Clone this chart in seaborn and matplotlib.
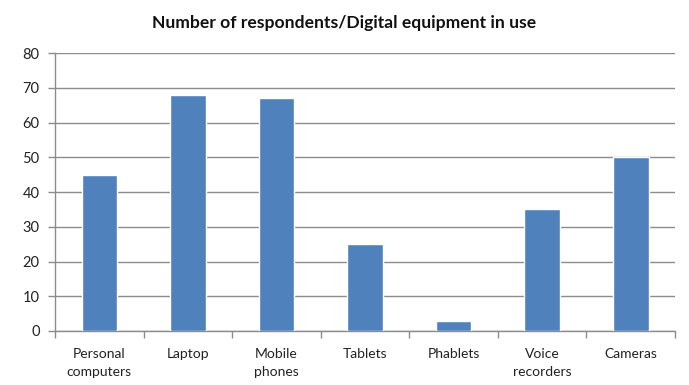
import matplotlib
matplotlib.use("Agg")
import matplotlib.pyplot as plt
import seaborn as sns
import pandas as pd
import numpy as np

categories = ["Personal\ncomputers", "Laptop", "Mobile\nphones", "Tablets",
              "Phablets", "Voice\nrecorders", "Cameras"]
respondents = [45, 68, 67, 25, 3, 35, 50]
y_ticks = [0, 10, 20, 30, 40, 50, 60, 70, 80]

sns.set_theme(style="white")
plt.rcParams["font.family"] = ["Lato", "DejaVu Sans"]

df = pd.DataFrame({"equipment": categories, "count": respondents})

fig = plt.figure(figsize=(6.89, 3.85), dpi=100)
ax = fig.add_axes([0.0798, 0.1403, 0.9, 0.7217])

sns.barplot(data=df, x="equipment", y="count", color="#4F81BD",
            width=0.4, saturation=1, ax=ax, zorder=3)

grid_c = "#8C8C8C"
ax.set_ylim(0, 80)
ax.set_xlim(-0.5, len(categories) - 0.5)
ax.set_yticks(y_ticks)
ax.yaxis.grid(True, color=grid_c, linewidth=1, zorder=0)
ax.set_axisbelow(True)

ax.set_xlabel("")
ax.set_ylabel("")
ax.set_xticks(range(len(categories)))
ax.set_xticklabels(categories, fontsize=10, color="#222222", linespacing=1.6)
ax.set_xticks(np.arange(-0.5, len(categories)), minor=True)
ax.tick_params(axis="x", which="major", length=0, pad=12)
ax.tick_params(axis="x", which="minor", length=5, width=1, color=grid_c,
               direction="out", bottom=True)
ax.tick_params(axis="y", length=5, width=1, color=grid_c, direction="out",
               left=True, labelsize=10.5, labelcolor="#222222", pad=6)

for side in ["top", "right"]:
    ax.spines[side].set_visible(False)
for side in ["left", "bottom"]:
    ax.spines[side].set_color(grid_c)
    ax.spines[side].set_linewidth(1)

fig.suptitle("Number of respondents/Digital equipment in use", x=0.499, y=0.96,
             fontsize=12.6, fontweight="bold", color="#111111")

fig.savefig("out.png", dpi=100)
